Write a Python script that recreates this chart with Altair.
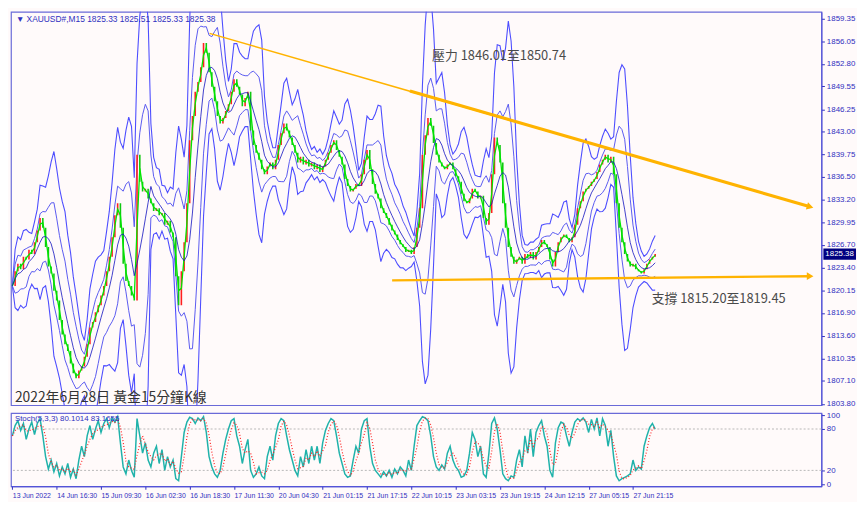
import altair as alt
import pandas as pd
import numpy as np

# hourly closes (every 4 M15 bars)
close = [
    1820.8, 1822.9, 1824.0, 1823.2, 1825.0, 1824.6, 1826.0, 1825.4, 1827.1, 1828.8,
    1830.6, 1829.2, 1826.4, 1823.6, 1822.6, 1820.1, 1818.7, 1815.9, 1813.8, 1812.4,
    1811.4, 1809.6, 1808.2, 1807.5, 1808.6, 1809.2, 1810.6, 1812.4, 1814.8, 1815.6,
    1817.0, 1818.0, 1819.4, 1820.8, 1822.9, 1825.0, 1827.8, 1831.0, 1832.7, 1829.2,
    1824.0, 1821.5, 1820.8, 1819.4, 1818.7, 1839.7, 1835.8, 1834.4, 1834.8, 1833.4,
    1832.7, 1831.6, 1832.0, 1831.0, 1831.3, 1829.6, 1830.2, 1828.5, 1827.8, 1822.2,
    1818.0, 1822.9, 1827.1, 1832.7, 1841.8, 1845.3, 1848.8, 1850.2, 1852.3, 1855.8,
    1854.4, 1851.6, 1849.5, 1847.4, 1845.3, 1844.2, 1845.0, 1846.0, 1847.0, 1848.8,
    1850.6, 1849.5, 1848.4, 1846.7, 1847.9, 1848.8, 1843.2, 1841.1, 1840.0, 1839.0,
    1837.6, 1836.9, 1838.0, 1838.6, 1837.6, 1839.0, 1841.1, 1842.8, 1844.2, 1843.2,
    1842.2, 1841.1, 1840.0, 1838.6, 1839.4, 1838.3, 1839.0, 1838.0, 1838.6, 1837.6,
    1838.3, 1837.2, 1838.0, 1839.0, 1840.0, 1841.1, 1841.8, 1840.4, 1839.4, 1838.3,
    1836.2, 1835.2, 1834.4, 1834.8, 1835.5, 1835.2, 1836.9, 1839.0, 1840.4, 1837.6,
    1835.5, 1834.1, 1833.4, 1832.0, 1831.3, 1830.6, 1829.6, 1828.8, 1828.2, 1827.4,
    1826.8, 1826.4, 1825.7, 1826.0, 1825.4, 1826.4, 1829.2, 1832.0, 1839.7, 1842.5,
    1845.0, 1843.9, 1841.4, 1839.7, 1838.6, 1838.0, 1837.6, 1838.3, 1838.6, 1837.6,
    1836.6, 1835.8, 1834.1, 1833.0, 1832.7, 1833.4, 1834.8, 1834.4, 1833.4, 1833.8,
    1830.6, 1829.6, 1831.3, 1836.9, 1842.2, 1841.1, 1838.6, 1832.7, 1829.2, 1826.4,
    1825.0, 1824.0, 1824.6, 1825.0, 1824.0, 1825.4, 1824.8, 1825.7, 1824.6, 1825.7,
    1826.4, 1827.4, 1826.8, 1826.4, 1824.6, 1823.6, 1825.7, 1827.1, 1827.8, 1828.2,
    1827.7, 1827.1, 1827.8, 1829.6, 1832.0, 1833.0, 1834.4, 1834.8, 1835.2, 1835.8,
    1836.2, 1837.2, 1838.3, 1839.0, 1839.7, 1838.6, 1839.4, 1836.9, 1832.7, 1829.2,
    1827.1, 1825.4, 1824.3, 1823.6, 1824.0, 1823.2, 1822.9, 1822.6, 1823.2, 1824.0,
    1824.6, 1825.0, 1825.4,
]
# Stochastic %K main line at the same hourly samples
stoch_k = [
    70, 85, 92, 78, 88, 65, 80, 90, 72, 88,
    95, 70, 40, 22, 35, 18, 30, 12, 25, 15,
    30, 10, 22, 8, 35, 55, 40, 70, 85, 65,
    80, 92, 75, 88, 95, 82, 96, 90, 98, 60,
    25, 15, 35, 20, 10, 95, 70, 45, 60, 35,
    25, 45, 55, 30, 50, 20, 40, 25, 35, 8,
    5, 40, 75, 90, 97, 95, 88, 96, 92, 98,
    75, 40, 25, 15, 10, 20, 45, 65, 80, 92,
    95, 70, 55, 30, 50, 65, 20, 10, 15, 25,
    12, 8, 40, 55, 35, 70, 88, 95, 92, 70,
    50, 35, 20, 12, 40, 25, 50, 30, 55, 35,
    55, 30, 60, 78, 88, 95, 92, 70, 45, 30,
    15, 10, 12, 35, 55, 45, 80, 92, 95, 55,
    30, 20, 15, 10, 18, 12, 20, 10, 22, 15,
    25, 20, 12, 35, 20, 55, 85, 92, 98, 96,
    92, 70, 40, 25, 20, 28, 22, 45, 55, 35,
    25, 20, 10, 12, 20, 45, 75, 65, 40, 55,
    15, 10, 45, 88, 96, 80, 50, 15, 8, 5,
    12, 10, 35, 50, 25, 70, 45, 80, 40, 75,
    85, 92, 70, 55, 20, 10, 60, 82, 90, 88,
    70, 55, 75, 90, 95, 92, 96, 90, 75, 94,
    80, 96, 70, 95, 85, 55, 78, 40, 12, 5,
    8, 10, 12, 15, 35, 20, 25, 22, 55, 70,
    82, 88, 80,
]
BARS_PER_SAMPLE = 4

time_label_bars = [0, 64, 128, 192, 256, 320, 384, 448, 512, 576, 640, 704, 768, 832, 896]
time_labels = ["13 Jun 2022", "14 Jun 16:30", "15 Jun 09:30", "16 Jun 02:30", "16 Jun 18:30",
               "17 Jun 11:30", "20 Jun 04:30", "21 Jun 01:15", "21 Jun 17:15", "22 Jun 10:15",
               "23 Jun 03:15", "23 Jun 19:15", "24 Jun 12:15", "27 Jun 05:15", "27 Jun 21:15"]
price_ticks = [1803.80, 1807.10, 1810.35, 1813.60, 1816.90, 1820.15, 1823.40, 1826.70, 1829.95,
               1833.20, 1836.50, 1839.75, 1843.00, 1846.25, 1849.55, 1852.80, 1856.05, 1859.35]
stoch_ticks = [0, 20, 80, 100]
stoch_levels = [20, 80]

res_bars = [284.7, 1151.7]
res_prices = [1857.2, 1832.2]
res_thick_bars = [574.0, 1151.7]
res_thick_prices = [1848.9, 1832.2]
sup_bars = [548.3, 1151.7]
sup_prices = [1821.6, 1822.2]

last_price = 1825.38
header = "▼ XAUUSD#,M15  1825.33 1825.51 1825.33 1825.38"
stoch_header = "Stoch(5,3,3) 80.1014 83.1655"
res_text = "壓力 1846.01至1850.74"
res_text_bar, res_text_price = 606, 1853.9
sup_text = "支撐 1815.20至1819.45"
sup_text_bar, sup_text_price = 923, 1818.9
title_text = "2022年6月28日 黃金15分鐘K線"

# ---- derived indicators ----
df = pd.DataFrame({"bar": [i * BARS_PER_SAMPLE for i in range(len(close))], "close": close,
                   "k": stoch_k})
c = df["close"]
df["open"] = c.shift(1).fillna(c)
df["dir"] = np.where(df["close"] >= df["open"], "up", "down")
m = c.rolling(6, min_periods=1).mean()
s = c.rolling(6, min_periods=1).std(ddof=0)
df["mid"] = m
df["in_hi"] = m + 2.0 * s
df["in_lo"] = m - 2.0 * s
df["out_hi"] = m + 4.0 * s
df["out_lo"] = m - 4.0 * s
df["fast"] = c.rolling(2, min_periods=1).mean()
df["d"] = df["k"].rolling(3, min_periods=1).mean()

W, H1, H2 = 820, 398, 74
AXC = "#2f2fc0"
ORANGE = "#ffb300"
xs = alt.Scale(domain=[-2, 1168], nice=False, zero=False)
ys = alt.Scale(domain=[1803.6, 1860.3], nice=False, zero=False)
yaxis = alt.Axis(orient="right", values=price_ticks, format=".2f", title=None, grid=False,
                 labelFontSize=8, labelColor=AXC, tickColor=AXC, domainColor="#4b4bd8",
                 tickSize=3, labelPadding=2, labelOverlap=False, labelFlush=False)
X = alt.X("bar:Q", scale=xs, axis=None)

base = alt.Chart(df)


def band(field, color, width):
    return base.mark_line(color=color, strokeWidth=width, clip=True).encode(
        x=X, y=alt.Y(f"{field}:Q", scale=ys, axis=yaxis))


layers = [
    band("out_hi", "#4d4dff", 1.1), band("out_lo", "#4d4dff", 1.1),
    band("in_hi", "#5a5af0", 1.0), band("in_lo", "#5a5af0", 1.0),
    base.mark_rule(strokeWidth=1.6, clip=True).encode(
        x=X, y=alt.Y("open:Q", scale=ys, axis=yaxis), y2="close:Q",
        color=alt.Color("dir:N", scale=alt.Scale(domain=["up", "down"], range=["#ff2020", "#10c810"]),
                        legend=None)),
    band("fast", "#00e600", 1.3),
    band("mid", "#1010c0", 0.8),
]

res_df = pd.DataFrame({"bar": res_bars, "price": res_prices})
res2_df = pd.DataFrame({"bar": res_thick_bars, "price": res_thick_prices})
sup_df = pd.DataFrame({"bar": sup_bars, "price": sup_prices})
for d_, w_ in [(res_df, 1.5), (res2_df, 3.2), (sup_df, 2.4)]:
    layers.append(alt.Chart(d_).mark_line(color=ORANGE, strokeWidth=w_).encode(
        x=X, y=alt.Y("price:Q", scale=ys, axis=yaxis)))
layers.append(alt.Chart(res_df.tail(1)).mark_point(shape="triangle-right", filled=True, size=60,
                                                   angle=16, color=ORANGE, opacity=1).encode(
    x=X, y=alt.Y("price:Q", scale=ys, axis=yaxis)))
layers.append(alt.Chart(sup_df.tail(1)).mark_point(shape="triangle-right", filled=True, size=60,
                                                   color=ORANGE, opacity=1).encode(
    x=X, y=alt.Y("price:Q", scale=ys, axis=yaxis)))

txt_df = pd.DataFrame({"bar": [res_text_bar, sup_text_bar], "price": [res_text_price, sup_text_price],
                       "t": [res_text, sup_text]})
layers.append(alt.Chart(txt_df).mark_text(align="left", baseline="middle", fontSize=13,
                                          font="Noto Sans CJK TC", color="#4a4a4a").encode(
    x=X, y=alt.Y("price:Q", scale=ys, axis=yaxis), text="t:N"))
layers.append(alt.Chart(pd.DataFrame({"t": [title_text]})).mark_text(
    align="left", baseline="middle", fontSize=14, font="Noto Sans CJK TC", color="#333333").encode(
    x=alt.value(4), y=alt.value(391), text="t:N"))
layers.append(alt.Chart(pd.DataFrame({"t": [header]})).mark_text(
    align="left", baseline="middle", fontSize=8.5, font="Liberation Sans", color="#3030c0").encode(
    x=alt.value(5), y=alt.value(7), text="t:N"))

lp = pd.DataFrame({"price": [last_price], "lo": [last_price - 0.8], "hi": [last_price + 0.8],
                   "t": [f"{last_price:.2f}"]})
layers.append(alt.Chart(lp).mark_rect(color="#000080", clip=False).encode(
    x=alt.value(W + 2), x2=alt.value(W + 35), y=alt.Y("lo:Q", scale=ys, axis=yaxis), y2="hi:Q"))
layers.append(alt.Chart(lp).mark_text(align="left", baseline="middle", fontSize=8,
                                      font="Liberation Sans", color="white").encode(
    x=alt.value(W + 4), y=alt.Y("price:Q", scale=ys, axis=yaxis), text="t:N"))

main = alt.layer(*layers).properties(width=W, height=H1)

# ---- stochastic panel ----
label_expr = "[" + ",".join(f"'{t}'" for t in time_labels) + "][round(datum.value/64)]"
xaxis = alt.Axis(values=time_label_bars, labelExpr=label_expr, labelAlign="left", labelFontSize=7,
                 labelColor=AXC, tickColor=AXC, domainColor="#4b4bd8", tickSize=3, labelPadding=2,
                 title=None, grid=False, labelOverlap=False, labelFlush=False)
sys_ = alt.Scale(domain=[-3, 103], nice=False, zero=False)
syaxis = alt.Axis(orient="right", values=stoch_ticks, format="d", title=None, grid=False,
                  labelFontSize=8, labelColor=AXC, tickColor=AXC, domainColor="#4b4bd8",
                  tickSize=3, labelPadding=2, labelOverlap=False, labelFlush=False)
SX = alt.X("bar:Q", scale=xs, axis=xaxis)

stoch = alt.layer(
    alt.Chart(pd.DataFrame({"lv": stoch_levels})).mark_rule(color="#b8b8b8", strokeDash=[2, 2],
                                                            strokeWidth=1).encode(
        y=alt.Y("lv:Q", scale=sys_, axis=syaxis)),
    base.mark_line(color="#20b2aa", strokeWidth=1.5).encode(
        x=SX, y=alt.Y("k:Q", scale=sys_, axis=syaxis)),
    base.mark_line(color="#ff2020", strokeWidth=1.2, strokeDash=[1, 2]).encode(
        x=SX, y=alt.Y("d:Q", scale=sys_, axis=syaxis)),
    alt.Chart(pd.DataFrame({"t": [stoch_header]})).mark_text(
        align="left", baseline="middle", fontSize=8, font="Liberation Sans", color="#3030c0").encode(
        x=alt.value(4), y=alt.value(6), text="t:N"),
).properties(width=W, height=H2)

chart = alt.vconcat(main, stoch, spacing=1).properties(
    padding={"left": 0, "top": 0, "right": 0, "bottom": 0}, background="#fffafa"
).configure_view(stroke="#6a6ad8", strokeWidth=1.2).configure_axis(labelFont="Liberation Sans")

chart.save("out.html", embed_options={"renderer": "svg", "actions": False})
